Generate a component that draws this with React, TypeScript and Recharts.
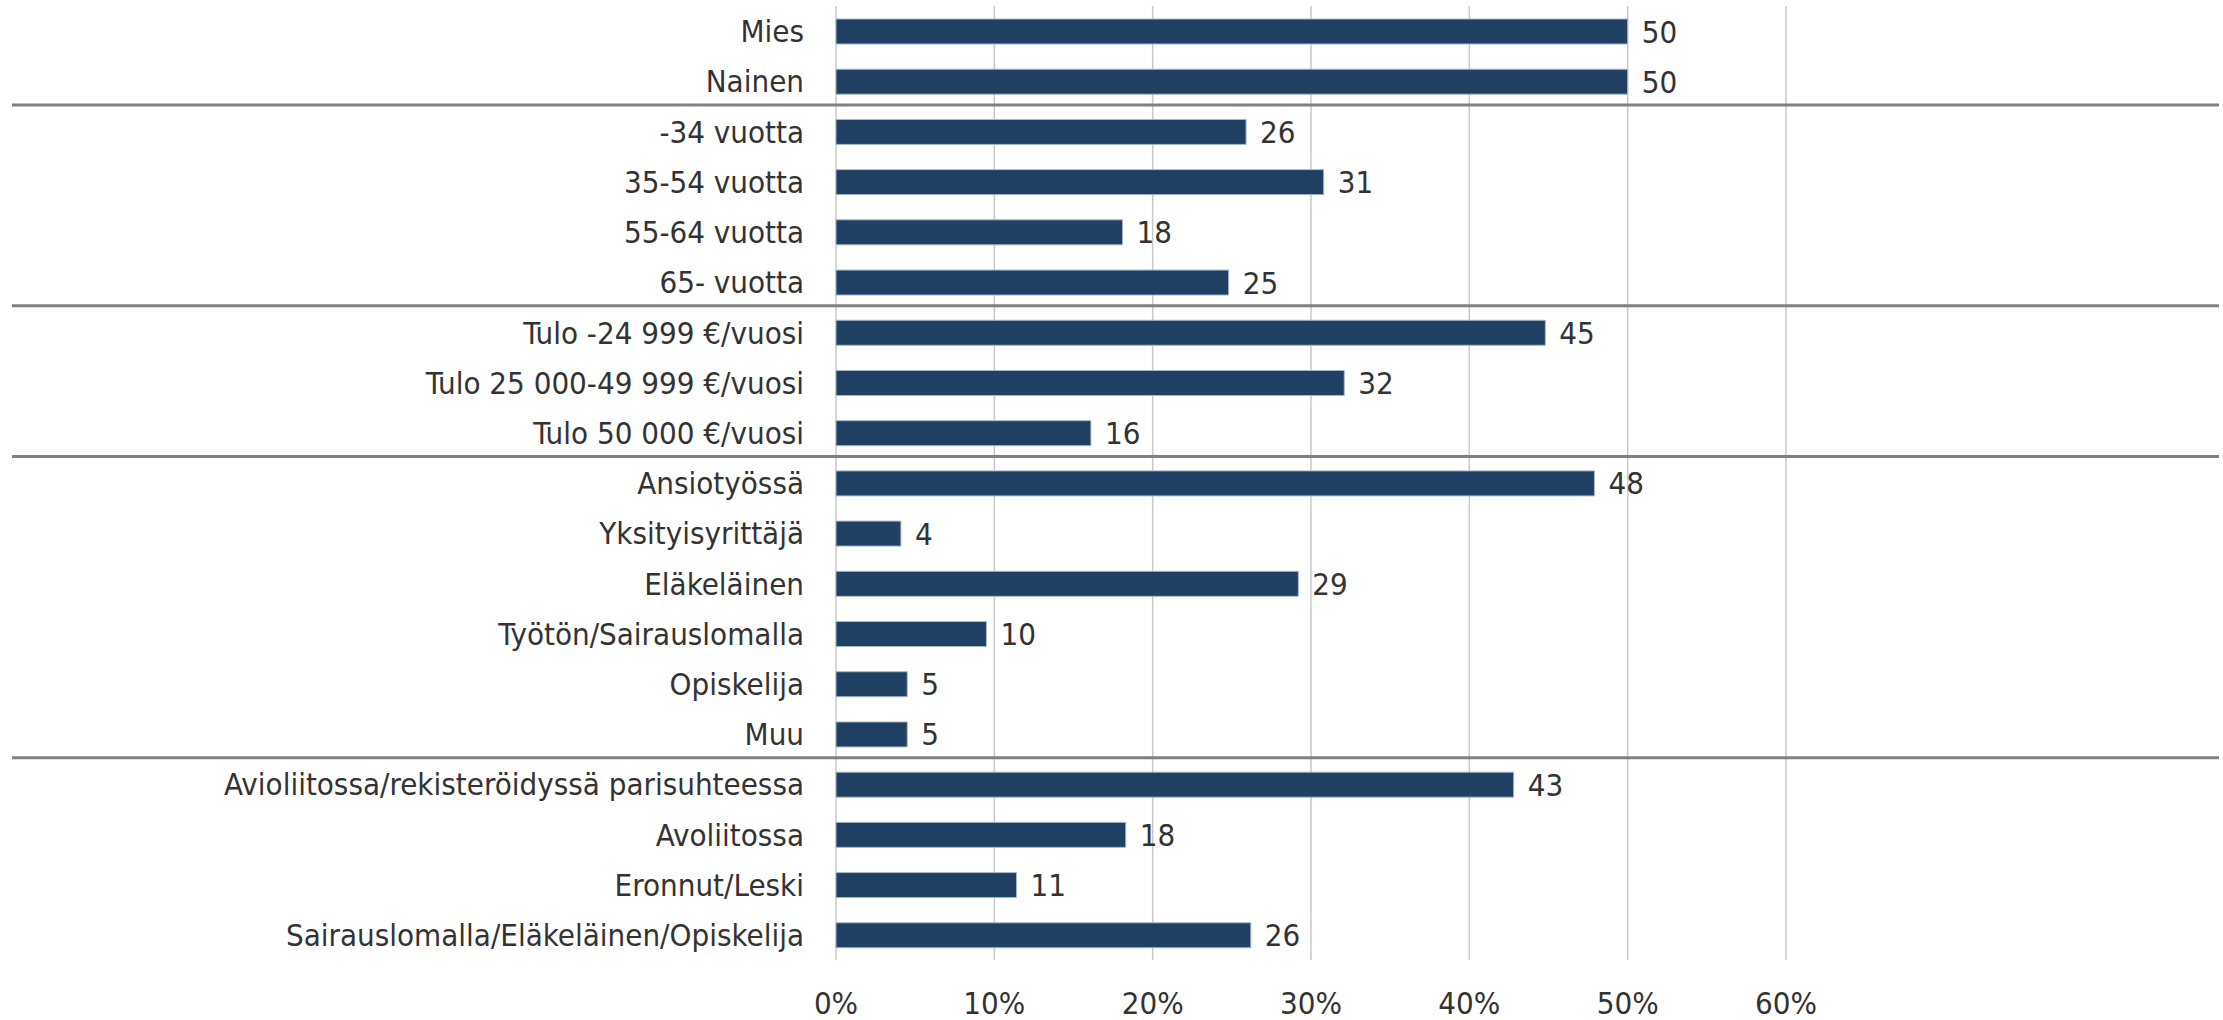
import { BarChart, Bar, XAxis, YAxis, CartesianGrid, LabelList } from "recharts";

const categories = [
    "Mies",
    "Nainen",
    "-34 vuotta",
    "35-54 vuotta",
    "55-64 vuotta",
    "65- vuotta",
    "Tulo -24 999 €/vuosi",
    "Tulo 25 000-49 999 €/vuosi",
    "Tulo 50 000 €/vuosi",
    "Ansiotyössä",
    "Yksityisyrittäjä",
    "Eläkeläinen",
    "Työtön/Sairauslomalla",
    "Opiskelija",
    "Muu",
    "Avioliitossa/rekisteröidyssä parisuhteessa",
    "Avoliitossa",
    "Eronnut/Leski",
    "Sairauslomalla/Eläkeläinen/Opiskelija",
];

// shares in percent (labels show them rounded)
const shares = [50, 50, 25.9, 30.8, 18.1, 24.8, 44.8, 32.1, 16.1, 47.9, 4.1, 29.2, 9.5, 4.5, 4.5, 42.8, 18.3, 11.4, 26.2];

// first row of each group after the first one (a rule is drawn above it)
const groupStarts = [2, 6, 9, 15];

const xTicks = [0, 10, 20, 30, 40, 50, 60];

const data = categories.map((name, i) => ({ name, value: shares[i] }));

const W = 2223;
const H = 1020;
const TOP = 6;
const XAXIS_H = 60;
const BAND = (H - TOP - XAXIS_H) / categories.length;
const FONT = "'Liberation Sans Narrow', 'DejaVu Sans Condensed', sans-serif";

function CategoryTick(props: any) {
    const { x, y, payload, index } = props;
    const rule = groupStarts.includes(index);
    return (
        <g>
            {rule && (
                <line x1={12} x2={2219} y1={y - BAND / 2 - 1.5} y2={y - BAND / 2 - 1.5} stroke="#808080" strokeWidth={3} />
            )}
            <text x={x} y={y} dy="0.36em" textAnchor="end" fill="#333333" fontSize={31} fontFamily={FONT}>
                {payload.value}
            </text>
        </g>
    );
}

export default function App() {
    return (
        <div style={{ position: "absolute", left: 0, top: 0, width: W, height: H, background: "#fff" }}>
            <BarChart
                width={W}
                height={H}
                data={data}
                layout="vertical"
                margin={{ top: TOP, right: 437, bottom: 0, left: 0 }}
                barSize={25}
            >
                <CartesianGrid horizontal={false} stroke="#c8c8c8" strokeWidth={1.5} />
                <XAxis
                    type="number"
                    domain={[0, 60]}
                    ticks={xTicks}
                    height={XAXIS_H}
                    axisLine={false}
                    tickLine={false}
                    tickSize={0}
                    tickMargin={32}
                    tickFormatter={(v: number) => `${v}%`}
                    tick={{ fill: "#333333", fontSize: 31, fontFamily: FONT }}
                    interval={0}
                />
                <YAxis
                    type="category"
                    dataKey="name"
                    width={836}
                    axisLine={false}
                    tickLine={false}
                    tickSize={0}
                    tickMargin={32}
                    interval={0}
                    tick={<CategoryTick />}
                />
                <Bar dataKey="value" fill="#1f3f63" stroke="#a9b8c9" strokeWidth={1} isAnimationActive={false}>
                    <LabelList
                        dataKey="value"
                        position="right"
                        offset={14}
                        formatter={(v: number) => Math.round(v)}
                        fill="#333333"
                        fontSize={31}
                        fontFamily={FONT}
                    />
                </Bar>
            </BarChart>
        </div>
    );
}
